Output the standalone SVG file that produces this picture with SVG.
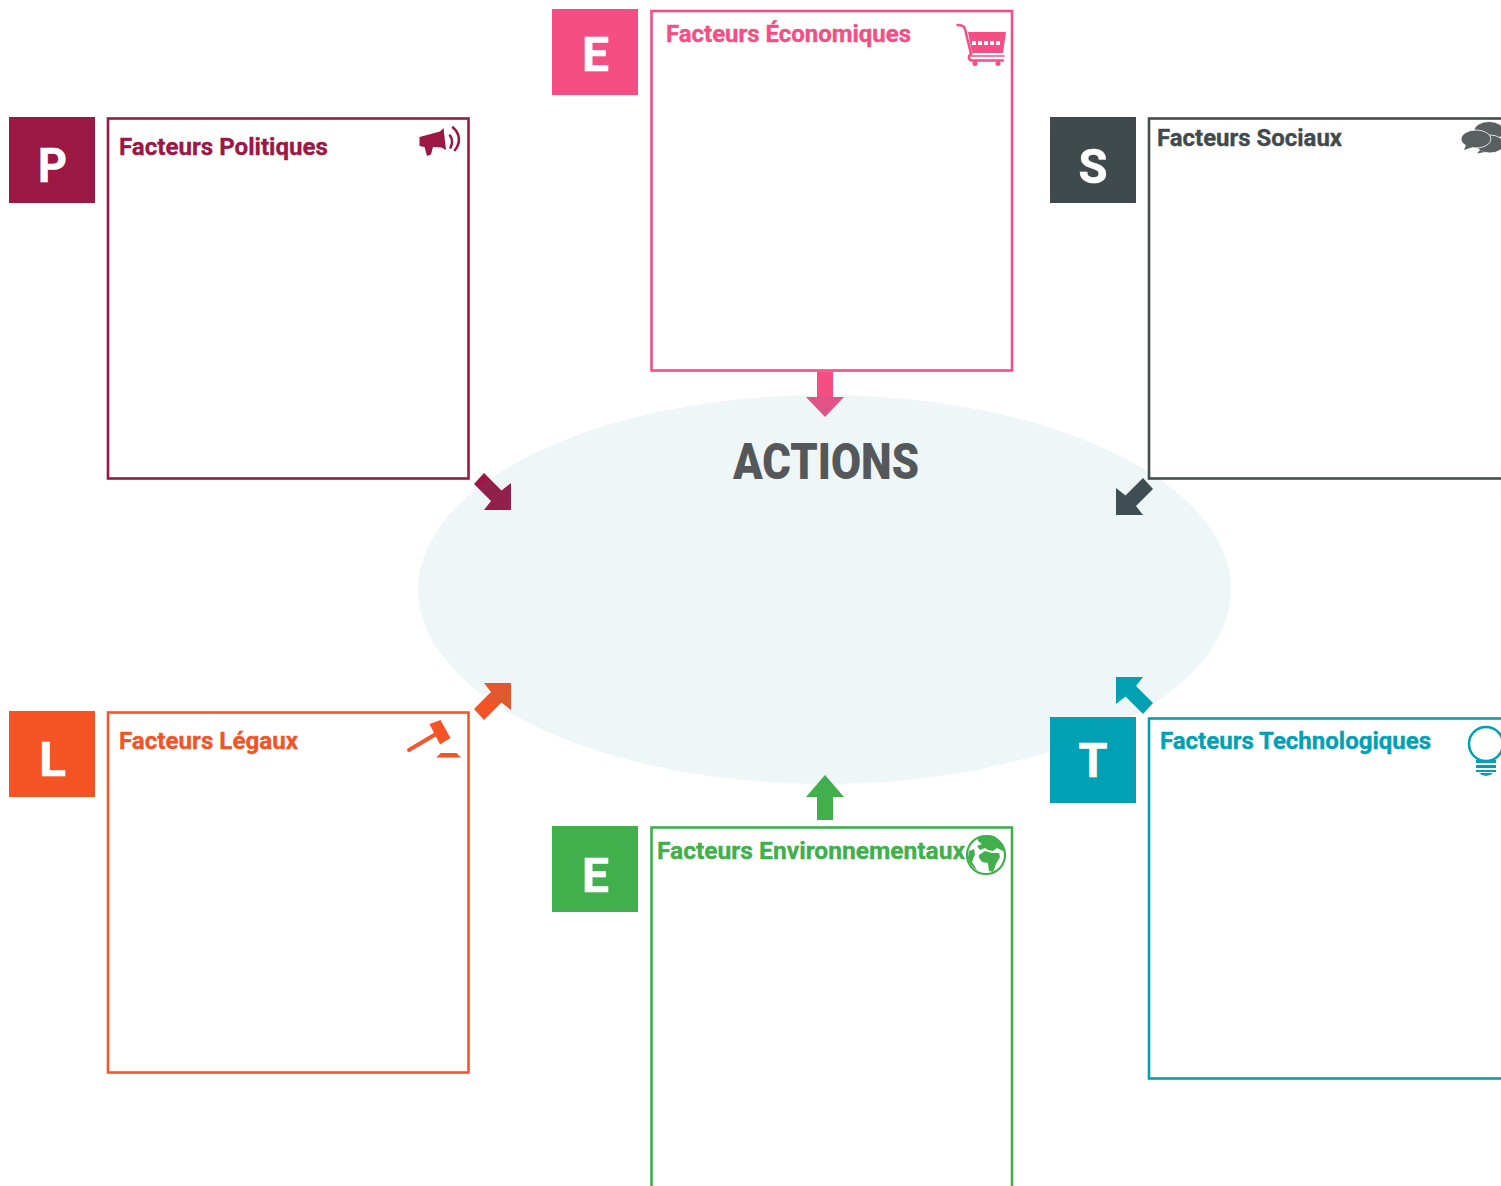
<svg xmlns="http://www.w3.org/2000/svg" width="1501" height="1186" viewBox="0 0 1501 1186">
<style>
.box{fill:#fff;stroke-width:2.6}
.t{font-family:Roboto,"Liberation Sans",sans-serif;font-weight:700;font-size:24px;stroke-width:.35}
.l{font-family:Roboto,"Liberation Sans",sans-serif;font-weight:700;font-size:49px;fill:#fff;text-anchor:middle;stroke:#fff;stroke-width:.6}
.pol{fill:#9B1744}.pols{stroke:#9B1744}
.eco{fill:#F44E84}.ecos{stroke:#F44E84}
.soc{fill:#40494B}.socs{stroke:#454E4F}
.leg{fill:#F35325}.legs{stroke:#F0572C}
.env{fill:#40AF4C}.envs{stroke:#40AF4C}
.tec{fill:#00A1B5}.tecs{stroke:#00A1B5}
.ln{fill:none;stroke-linecap:round}
</style>
<g id="node-politiques">
<rect class="pol" x="9" y="117" width="86" height="86"/>
<text class="l" x="52.500" y="182" textLength="29" lengthAdjust="spacingAndGlyphs">P</text>
<rect class="box pols" x="108" y="118.500" width="360.500" height="360"/>
<text class="t pol pols" x="119" y="155" textLength="209" lengthAdjust="spacingAndGlyphs">Facteurs Politiques</text>
<path class="pol" d="M419.500 137 L440 131.500 L443.500 128 L446 150 L441.500 147.500 L433 147 L431 154.500 L427 156 L424.500 147 L419.500 146Z"/>
<path class="ln pols" stroke-width="2.600" d="M450 135.500 C452.500 139 452.500 144 450.500 147.500"/>
<path class="ln pols" stroke-width="2.600" d="M453 127.500 C460.500 134 460.500 143 455 150"/>
</g>
<g id="node-economiques">
<rect class="eco" x="552" y="9" width="86" height="86"/>
<text class="l" x="595.500" y="71" textLength="27" lengthAdjust="spacingAndGlyphs">E</text>
<rect class="box ecos" x="651.500" y="11" width="360.500" height="359.500"/>
<text class="t eco ecos" x="666" y="42" textLength="245" lengthAdjust="spacingAndGlyphs">Facteurs Économiques</text>
<path class="eco" d="M968 32 L1006 32 L1003 53 L972 53Z"/>
<path class="ln ecos" stroke-width="2.500" d="M957.500 25 Q964 25 965 29 L971 54 Q968.500 56 969 58 Q969.500 60.500 972 60.500 L1003 60.500"/>
<path class="ln ecos" stroke-width="1.500" d="M971 56 L1004 56"/>
<circle class="eco" cx="975" cy="63.500" r="2.500"/><circle class="eco" cx="998" cy="63.500" r="2.500"/>
<g fill="#fff"><rect x="972" y="41" width="4" height="4"/><rect x="978" y="41" width="4" height="4"/><rect x="984" y="41" width="4" height="4"/><rect x="990" y="41" width="4" height="4"/><rect x="996" y="41" width="4" height="4"/></g>
</g>
<g id="node-legaux">
<rect class="leg" x="9" y="711" width="86" height="86"/>
<text class="l" x="52.500" y="776" textLength="27" lengthAdjust="spacingAndGlyphs">L</text>
<rect class="box legs" x="108" y="712.500" width="360.500" height="360"/>
<text class="t leg legs" x="119" y="749" textLength="179" lengthAdjust="spacingAndGlyphs">Facteurs Légaux</text>
<polygon class="leg" points="429.500,724 440.500,720 450.500,738 440,744.500"/>
<path class="ln legs" stroke-width="4" d="M436 734 L409 750"/>
<path class="leg" d="M436 757.500 L441 753 L456.500 753 L461 757.500Z"/>
</g>
<g id="node-environnementaux">
<rect class="env" x="552" y="826" width="86" height="86"/>
<text class="l" x="595.500" y="892" textLength="27" lengthAdjust="spacingAndGlyphs">E</text>
<rect class="box envs" x="651.500" y="827.500" width="360.500" height="361"/>
<text class="t env envs" x="657" y="858.500" textLength="308" lengthAdjust="spacingAndGlyphs">Facteurs Environnementaux</text>
<circle cx="986" cy="855" r="19" fill="#fff" stroke="#40AF4C" stroke-width="2.200"/>
<path class="env" d="M978 838 Q986 834 994 836 Q1002 841 1005 852 L1001 850 L997 848 L993 851 L988 850 L985 848 L980 850 L977 846 L982 844 L978 841Z M969 851 L974 849 L975 854 L972 862 L977 870 Q970 866 968 858Z M979 855 L985 851 L992 853 L999 853 L1000 857 L996 864 L993 872 L989 871 L988 863 L982 862 L979 858Z"/>
</g>
<g id="node-technologiques">
<rect class="tec" x="1050" y="717" width="86" height="86"/>
<text class="l" x="1093" y="777" textLength="29" lengthAdjust="spacingAndGlyphs">T</text>
<rect class="box tecs" x="1149" y="718.500" width="361" height="360"/>
<text class="t tec tecs" x="1160" y="749" textLength="271" lengthAdjust="spacingAndGlyphs">Facteurs Technologiques</text>
<circle cx="1486" cy="744" r="17" fill="none" stroke="#00A1B5" stroke-width="2.500"/>
<rect class="tec" x="1476" y="760" width="20" height="3"/><rect class="tec" x="1476" y="765" width="20" height="3"/><rect class="tec" x="1476" y="770" width="20" height="2"/>
<path class="tec" d="M1479 773 L1493 773 Q1490 776 1486 776 Q1482 776 1479 773Z"/>
</g>
<g id="connectors">
<polygon class="eco" points="817,372 833,372 833,397 844,397 825,417 806,397 817,397"/>
<polygon class="pol" points="484,473 501.500,490.500 511,483 511,510 484,510 491,501 474,484"/>
<polygon class="soc" points="1143,478 1125.500,495.500 1116,488 1116,515 1143,515 1136,506 1153,489"/>
<polygon class="leg" points="484,720 501.500,702.500 511,710 511,683 484,683 491,692 474,709"/>
<polygon class="tec" points="1143,714 1125.500,696.500 1116,704 1116,677 1143,677 1136,686 1153,703"/>
<polygon class="env" points="817,820 833,820 833,797 844,797 825,775 806,797 817,797"/>
</g>
<ellipse id="actions" cx="824.500" cy="589.500" rx="406.500" ry="194.500" fill="#2090A8" fill-opacity=".08"/>
<text x="733" y="479" font-family="Roboto,'Liberation Sans',sans-serif" font-weight="900" font-size="50" fill="#54585A" textLength="186" lengthAdjust="spacingAndGlyphs">ACTIONS</text>
<g id="node-sociaux">
<rect class="soc" x="1050" y="117" width="86" height="86"/>
<text class="l" x="1093" y="183" textLength="29" lengthAdjust="spacingAndGlyphs">S</text>
<rect class="box socs" x="1149" y="118.500" width="361" height="360"/>
<text class="t soc socs" x="1157" y="146" textLength="185" lengthAdjust="spacingAndGlyphs">Facteurs Sociaux</text>
<g fill="#5A5F60" stroke="#fff" stroke-width=".8"><ellipse cx="1489" cy="131" rx="15" ry="9.500"/><ellipse cx="1490" cy="144" rx="14" ry="9"/><path d="M1480 150 L1477 153.500 L1485 152Z" stroke="none"/><ellipse cx="1476" cy="139" rx="15" ry="9"/><path d="M1466 145 L1464 150 L1473 147Z" stroke="none"/></g>
</g>
</svg>
